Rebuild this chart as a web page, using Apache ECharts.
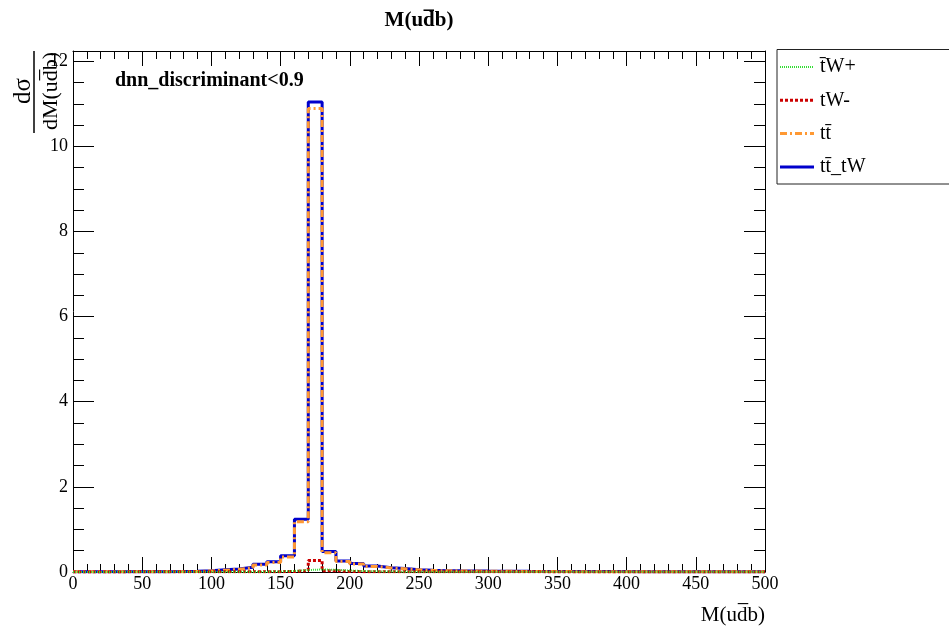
<!DOCTYPE html>
<html>
<head>
<meta charset="utf-8">
<script src="https://cdn.jsdelivr.net/npm/echarts@6/dist/echarts.min.js"></script>
<style>
  html, body { margin: 0; padding: 0; background: #fff; }
  #chart { width: 949px; height: 629px; }
</style>
</head>
<body>
<div id="chart"></div>
<script>
// Histogram of M(u dbar b), 50 bins of width 10 between 0 and 500
const binEdges = [0, 10, 20, 30, 40, 50, 60, 70, 80, 90, 100, 110, 120, 130, 140, 150, 160, 170, 180, 190,
  200, 210, 220, 230, 240, 250, 260, 270, 280, 290, 300, 310, 320, 330, 340, 350, 360, 370, 380, 390,
  400, 410, 420, 430, 440, 450, 460, 470, 480, 490, 500];

const ttbarTW = [0.004, 0.004, 0.005, 0.005, 0.005, 0.006, 0.008, 0.010, 0.015, 0.030,
  0.050, 0.070, 0.110, 0.180, 0.240, 0.380, 1.240, 11.040, 0.480, 0.260,
  0.200, 0.140, 0.100, 0.080, 0.055, 0.040, 0.032, 0.028, 0.025, 0.022,
  0.020, 0.018, 0.015, 0.013, 0.012, 0.011, 0.010, 0.010, 0.009, 0.009,
  0.008, 0.008, 0.007, 0.007, 0.006, 0.006, 0.006, 0.005, 0.005, 0.005];

const ttbar = [0.003, 0.003, 0.004, 0.004, 0.004, 0.005, 0.006, 0.008, 0.012, 0.025,
  0.042, 0.062, 0.100, 0.165, 0.225, 0.355, 1.180, 10.890, 0.455, 0.245,
  0.188, 0.132, 0.094, 0.074, 0.050, 0.036, 0.029, 0.025, 0.022, 0.019,
  0.017, 0.015, 0.013, 0.011, 0.010, 0.009, 0.008, 0.008, 0.007, 0.007,
  0.006, 0.006, 0.006, 0.005, 0.005, 0.005, 0.004, 0.004, 0.004, 0.004];

const tWminus = [0.002, 0.002, 0.002, 0.003, 0.003, 0.003, 0.003, 0.004, 0.004, 0.004,
  0.005, 0.005, 0.005, 0.006, 0.008, 0.012, 0.035, 0.270, 0.030, 0.012,
  0.008, 0.006, 0.005, 0.005, 0.004, 0.004, 0.004, 0.003, 0.003, 0.003,
  0.003, 0.003, 0.003, 0.003, 0.002, 0.002, 0.002, 0.002, 0.002, 0.002,
  0.002, 0.002, 0.002, 0.002, 0.002, 0.002, 0.002, 0.002, 0.002, 0.002];

const tbarWplus = [0.002, 0.002, 0.003, 0.003, 0.003, 0.004, 0.004, 0.005, 0.005, 0.006,
  0.006, 0.007, 0.007, 0.008, 0.012, 0.025, 0.045, 0.060, 0.050, 0.035,
  0.022, 0.015, 0.010, 0.008, 0.007, 0.006, 0.006, 0.005, 0.005, 0.005,
  0.004, 0.004, 0.004, 0.004, 0.004, 0.003, 0.003, 0.003, 0.003, 0.003,
  0.003, 0.003, 0.003, 0.003, 0.003, 0.003, 0.003, 0.003, 0.003, 0.003];

const legendNames = ['t\u0304W+', 'tW-', 'tt\u0304', 'tt\u0304_tW'];

const xTicks = { min: 0, max: 500, interval: 50 };
const yTicks = { min: 0, max: 12.24, interval: 2 };

const serif = '"Liberation Serif", "DejaVu Serif", serif';

// line look of each sample, shared by the histogram and its legend entry
const styles = {
  'tt\u0304_tW': { color: '#0000cc', width: 3, dash: null },
  'tt\u0304': { color: '#ff9933', width: 3, dash: [7, 3, 2, 3] },
  'tW-': { color: '#cc0000', width: 3, dash: [3, 2] },
  't\u0304W+': { color: '#33dd33', width: 2, dash: [1, 1] }
};

// one point per lower bin edge plus the closing edge, drawn as a step line
function histPoints(values) {
  return binEdges.map((x, i) => [x, values[Math.min(i, values.length - 1)]]);
}

function histSeries(name, values, z) {
  const s = styles[name];
  return {
    name: name, type: 'line', step: 'end', symbol: 'none', showSymbol: false,
    xAxisIndex: 0, yAxisIndex: 0, z: z,
    itemStyle: { color: s.color },
    lineStyle: { color: s.color, width: s.width, type: s.dash || 'solid' },
    data: histPoints(values)
  };
}

const chart = echarts.init(document.getElementById('chart'), null, { renderer: 'canvas' });

const xAxisBase = {
  type: 'value',
  min: xTicks.min, max: xTicks.max, interval: xTicks.interval,
  axisLine: { show: true, onZero: false, lineStyle: { color: '#000', width: 1 } },
  axisTick: { show: true, inside: true, length: 15, lineStyle: { color: '#000' } },
  minorTick: { show: true, splitNumber: 5, length: 8, lineStyle: { color: '#000' } },
  splitLine: { show: false },
  minorSplitLine: { show: false }
};
const yAxisBase = {
  type: 'value',
  min: yTicks.min, max: yTicks.max, interval: yTicks.interval,
  axisLine: { show: true, onZero: false, lineStyle: { color: '#000', width: 1 } },
  axisTick: { show: true, inside: true, length: 21, lineStyle: { color: '#000' } },
  minorTick: { show: true, splitNumber: 4, length: 11, lineStyle: { color: '#000' } },
  splitLine: { show: false },
  minorSplitLine: { show: false }
};

// legend box with one line sample and label per sample
const legendGraphics = [
  { type: 'rect', z: 1, shape: { x: 777, y: 49.5, width: 200, height: 134.5 },
    style: { fill: '#fff', stroke: '#222', lineWidth: 1 } }
];
legendNames.forEach((name, i) => {
  const s = styles[name];
  const y = 67 + i * 33.3;
  legendGraphics.push({
    type: 'line', z: 10, shape: { x1: 780, y1: y, x2: 814, y2: y },
    style: { stroke: s.color, lineWidth: s.width, lineDash: s.dash || null }
  });
  legendGraphics.push({
    type: 'text', x: 820, y: y, z: 10,
    style: { text: name, font: '20px ' + serif, fill: '#000', textAlign: 'left', textVerticalAlign: 'middle' }
  });
});

const option = {
  animation: false,
  backgroundColor: '#fff',
  grid: { left: 73, top: 51, width: 692, height: 521, containLabel: false },
  xAxis: [
    Object.assign({}, xAxisBase, {
      position: 'bottom',
      axisLabel: { color: '#000', fontFamily: serif, fontSize: 18, margin: 3 }
    }),
    Object.assign({}, xAxisBase, { position: 'top', axisLabel: { show: false } })
  ],
  yAxis: [
    Object.assign({}, yAxisBase, {
      position: 'left',
      axisLabel: {
        color: '#000', fontFamily: serif, fontSize: 18, margin: 5,
        formatter: v => (Math.abs(v / 2 - Math.round(v / 2)) < 1e-6 ? String(v) : '')
      }
    }),
    Object.assign({}, yAxisBase, { position: 'right', axisLabel: { show: false } })
  ],
  series: [
    histSeries('tt\u0304_tW', ttbarTW, 2),
    histSeries('tt\u0304', ttbar, 3),
    histSeries('tW-', tWminus, 4),
    histSeries('t\u0304W+', tbarWplus, 5)
  ],
  graphic: legendGraphics.concat([
    // main title
    { type: 'text', x: 419, y: 21, z: 10,
      style: { text: 'M(ud\u0305b)', font: 'bold 21px ' + serif, fill: '#000', textAlign: 'center', textVerticalAlign: 'middle' } },
    // selection label inside the frame
    { type: 'text', x: 115, y: 81, z: 10,
      style: { text: 'dnn_discriminant<0.9', font: 'bold 20px ' + serif, fill: '#000', textAlign: 'left', textVerticalAlign: 'middle' } },
    // x-axis title
    { type: 'text', x: 765, y: 615, z: 10,
      style: { text: 'M(ud\u0305b)', font: '21px ' + serif, fill: '#000', textAlign: 'right', textVerticalAlign: 'middle' } },
    // y-axis title: d sigma / dM(u dbar b)
    { type: 'text', x: 23, y: 91, rotation: Math.PI / 2, z: 10,
      style: { text: 'd\u03c3', font: '25px ' + serif, fill: '#000', textAlign: 'center', textVerticalAlign: 'middle' } },
    { type: 'line', z: 10, shape: { x1: 34, y1: 51, x2: 34, y2: 133 },
      style: { stroke: '#000', lineWidth: 1.5 } },
    { type: 'text', x: 51, y: 91, rotation: Math.PI / 2, z: 10,
      style: { text: 'dM(ud\u0305b)', font: '22px ' + serif, fill: '#000', textAlign: 'center', textVerticalAlign: 'middle' } }
  ])
};

chart.setOption(option);
</script>
</body>
</html>
